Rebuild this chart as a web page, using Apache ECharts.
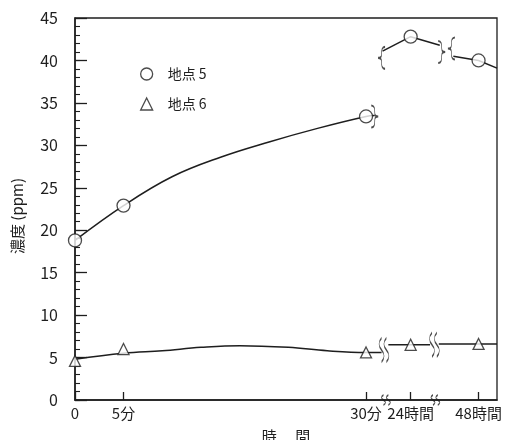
<!DOCTYPE html>
<html>
<head>
<meta charset="utf-8">
<script src="https://cdn.jsdelivr.net/npm/echarts@6/dist/echarts.min.js"></script>
<style>
  html, body { margin: 0; padding: 0; background: #fff; }
  #chart { width: 518px; height: 440px; }
</style>
</head>
<body>
<div id="chart"></div>
<script>
// time axis is broken after 30分, so positions are on a compressed scale
const timeLabels = ['0', '5分', '30分', '24時間', '48時間'];
const timePos = [0, 5, 30, 34.6, 41.6];

const site5 = [18.8, 22.9, 33.4, 42.8, 40.0];
const site6 = [4.6, 6.0, 5.6, 6.5, 6.6];

// drawn curves, one array per unbroken piece
const site5Curve = [[0, 18.8], [5, 22.9], [10, 26.3], [15, 28.6], [20, 30.4], [25, 32.0], [30, 33.4], [30.9, 33.5]];
const site5Mid = [[31.7, 41.1], [34.6, 42.8], [37.6, 41.8]];
const site5End = [[39.0, 40.5], [41.6, 40.0], [43.5, 39.1]];

const site6Curve = [[0, 4.8], [5, 5.5], [9, 5.8], [13, 6.2], [17, 6.4], [22, 6.2], [26, 5.8], [30, 5.6], [31.6, 5.6]];
const site6Mid = [[32.3, 6.5], [34.6, 6.5], [36.6, 6.5]];
const site6End = [[37.5, 6.6], [41.6, 6.6], [43.5, 6.6]];

const yTicks = [0, 5, 10, 15, 20, 25, 30, 35, 40, 45];

// break marks (decoration), in axis units
const braceRAt = [[30.9, 33.4], [37.8, 41.0]];
const braceLAt = [[31.6, 40.3], [38.8, 41.4]];
const waveAt = [[31.6, 5.9], [32.1, 5.9], [36.8, 6.5], [37.3, 6.5]];
const axisWaveAt = [[31.8, 0], [32.3, 0], [36.9, 0], [37.4, 0]];

const INK = '#1e1e1e';
const FONT = '"Noto Sans CJK JP", "Noto Sans", sans-serif';

const BRACE_R = 'path://M0,0 C4,0 4,4 4,8 C4,11 5,12 8,12 C5,12 4,13 4,16 C4,20 4,24 0,24';
const BRACE_L = 'path://M8,0 C4,0 4,4 4,8 C4,11 3,12 0,12 C3,12 4,13 4,16 C4,20 4,24 8,24';
const WAVE = 'path://M3,0 C0,4 0,8 3,12 C6,16 6,20 3,24';

const chart = echarts.init(document.getElementById('chart'));

const linePiece = (data, smooth) => ({
  type: 'line',
  data: data,
  smooth: smooth,
  showSymbol: false,
  silent: true,
  clip: false,
  lineStyle: { color: INK, width: 1.5 },
  z: 2
});

const markPiece = (data, symbol, size) => ({
  type: 'scatter',
  data: data,
  symbol: symbol,
  symbolSize: size,
  silent: true,
  clip: false,
  itemStyle: { color: 'rgba(0,0,0,0)', borderColor: INK, borderWidth: 1.2 },
  z: 4
});

const option = {
  backgroundColor: '#fff',
  animation: false,
  textStyle: { fontFamily: FONT, color: INK },
  grid: {
    left: 75, right: 21, top: 18, bottom: 40,
    outerBoundsMode: 'none',
    containLabel: false,
    show: true, borderColor: INK, borderWidth: 1.3
  },
  legend: {
    orient: 'vertical',
    left: 140, top: 67,
    padding: 0,
    itemWidth: 12, itemHeight: 12, itemGap: 16,
    textStyle: { fontSize: 14, color: INK, fontFamily: FONT, padding: [0, 0, 0, 10] },
    data: [
      { name: '地点 5', icon: 'circle', itemStyle: { color: '#fff', borderColor: INK, borderWidth: 1.3 } },
      { name: '地点 6', icon: 'triangle', itemStyle: { color: '#fff', borderColor: INK, borderWidth: 1.3 } }
    ]
  },
  xAxis: {
    type: 'value',
    min: 0, max: 43.5,
    name: '時　 間',
    nameLocation: 'middle',
    nameGap: 29,
    nameMoveOverlap: false,
    nameTextStyle: { fontSize: 15, color: INK, fontFamily: FONT },
    axisLine: { lineStyle: { color: INK, width: 1.5 } },
    splitLine: { show: false },
    axisTick: {
      inside: true, length: 8,
      customValues: timePos,
      lineStyle: { color: INK, width: 1.3 }
    },
    axisLabel: {
      customValues: timePos,
      margin: 6,
      fontSize: 15,
      color: INK,
      fontFamily: FONT,
      formatter: v => timeLabels[timePos.indexOf(v)] || ''
    }
  },
  yAxis: [
    {
      type: 'value',
      min: 0, max: 45, interval: 5,
      name: '濃度 (ppm)',
      nameLocation: 'middle',
      nameGap: 50,
      nameMoveOverlap: false,
      nameTextStyle: { fontSize: 15, color: INK, fontFamily: FONT, padding: [0, 14, 0, 0] },
      axisLine: { show: true, lineStyle: { color: INK, width: 1.5 } },
      splitLine: { show: false },
      axisTick: { inside: true, length: 12, lineStyle: { color: INK, width: 1.3 } },
      axisLabel: {
        margin: 17, fontSize: 16, color: INK, fontFamily: FONT,
        formatter: v => (yTicks.indexOf(v) >= 0 ? String(v) : '')
      }
    },
    {
      // overlay axis for the small 1-unit ticks
      type: 'value',
      position: 'left',
      min: 0, max: 45, interval: 1,
      axisLine: { show: false },
      splitLine: { show: false },
      axisTick: { inside: true, length: 5, lineStyle: { color: INK, width: 1.1 } },
      axisLabel: { show: false }
    }
  ],
  series: [
    linePiece(site5Curve, 0.4),
    linePiece(site5Mid, false),
    linePiece(site5End, false),
    linePiece(site6Curve, 0.4),
    linePiece(site6Mid, false),
    linePiece(site6End, false),
    markPiece(braceRAt, BRACE_R, [7, 22]),
    markPiece(braceLAt, BRACE_L, [7, 22]),
    markPiece(waveAt, WAVE, [5, 24]),
    markPiece(axisWaveAt, WAVE, [4, 10]),
    {
      name: '地点 5',
      type: 'scatter',
      data: timePos.map((x, i) => [x, site5[i]]),
      symbol: 'circle',
      symbolSize: 13,
      clip: false,
      itemStyle: { color: '#fff', borderColor: INK, borderWidth: 1.3 },
      z: 5
    },
    {
      name: '地点 6',
      type: 'scatter',
      data: timePos.map((x, i) => [x, site6[i]]),
      symbol: 'triangle',
      symbolSize: 11,
      clip: false,
      itemStyle: { color: '#fff', borderColor: INK, borderWidth: 1.3 },
      z: 5
    }
  ]
};

chart.setOption(option);
</script>
</body>
</html>
